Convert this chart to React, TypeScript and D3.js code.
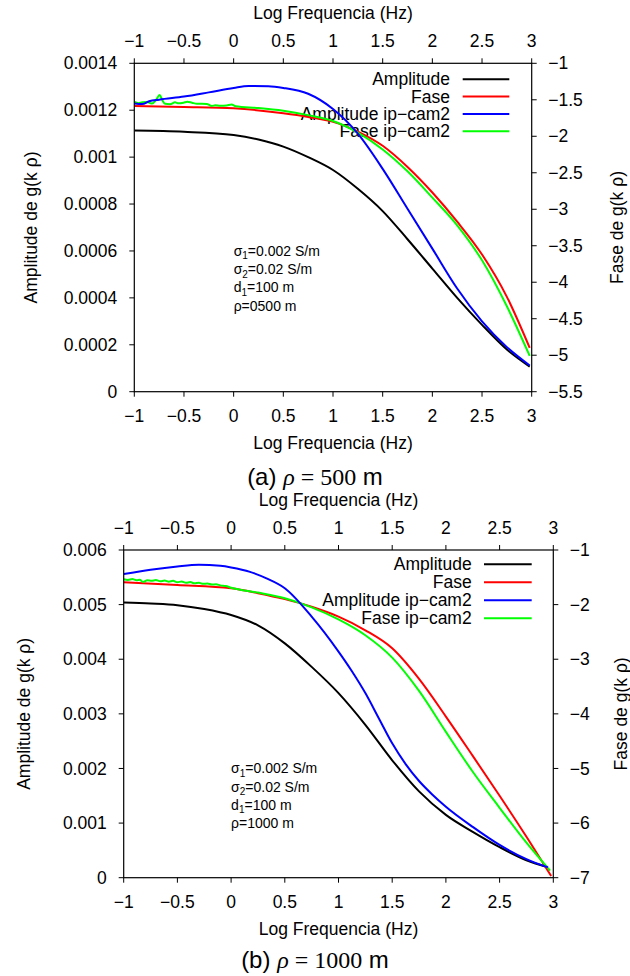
import React from "react";
import * as d3 from "d3";

type Pt = [number, number];

// ---------- shared axis values ----------
const xTicks = [-1, -0.5, 0, 0.5, 1, 1.5, 2, 2.5, 3];
const legendLabels = ["Amplitude", "Fase", "Amplitude ip\u2212cam2", "Fase ip\u2212cam2"];
const seriesColors = ["#000000", "#ff0000", "#0000ff", "#00ff00"];
const xTitle = "Log Frequencia (Hz)";
const ampTitle = "Amplitude de g(k \u03c1)";
const phaseTitle = "Fase de g(k \u03c1)";

// ---------- panel (a) rho = 500 m ----------
const ampTicksA = [0, 0.0002, 0.0004, 0.0006, 0.0008, 0.001, 0.0012, 0.0014];
const phaseTicksA = [-5.5, -5, -4.5, -4, -3.5, -3, -2.5, -2, -1.5, -1];

const amplitudeA: Pt[] = [
  [-1, 0.001113], [-0.5, 0.001108], [0, 0.001094], [0.25, 0.001075], [0.5, 0.001045],
  [0.75, 0.001], [1, 0.000945], [1.25, 0.000865], [1.5, 0.00077], [1.75, 0.00065],
  [2, 0.000525], [2.25, 0.0004], [2.5, 0.000285], [2.75, 0.00018], [2.98, 0.000107],
];
const faseA: Pt[] = [
  [-1, -1.585], [-0.5, -1.598], [0, -1.617], [0.5, -1.685], [0.75, -1.735], [1, -1.8],
  [1.25, -1.935], [1.5, -2.13], [1.75, -2.42], [2, -2.77], [2.25, -3.17], [2.5, -3.62],
  [2.75, -4.2], [2.98, -4.9],
];
const amplitudeIpA: Pt[] = [
  [-1, 0.001229], [-0.92, 0.001226], [-0.85, 0.001238], [-0.75, 0.001245], [-0.5, 0.001258],
  [-0.25, 0.001276], [0, 0.001295], [0.15, 0.001303], [0.35, 0.001302], [0.5, 0.001295],
  [0.75, 0.00127], [1, 0.001205], [1.25, 0.0011], [1.5, 0.00095], [1.75, 0.00078],
  [2, 0.00061], [2.25, 0.00044], [2.5, 0.0003], [2.75, 0.00019], [2.98, 0.000112],
];
const faseIpA: Pt[] = [
  [-1, -1.526], [-0.96, -1.548], [-0.92, -1.535], [-0.87, -1.53], [-0.82, -1.552],
  [-0.78, -1.5], [-0.745, -1.434], [-0.72, -1.5], [-0.69, -1.555], [-0.64, -1.56],
  [-0.59, -1.535], [-0.555, -1.548], [-0.505, -1.54], [-0.465, -1.527], [-0.42, -1.54],
  [-0.37, -1.555], [-0.32, -1.553], [-0.27, -1.557], [-0.22, -1.585], [-0.185, -1.575],
  [-0.135, -1.583], [-0.07, -1.578], [-0.02, -1.565], [0.02, -1.588], [0.25, -1.612],
  [0.5, -1.65], [0.75, -1.71], [1, -1.79], [1.25, -1.95], [1.5, -2.18], [1.75, -2.48],
  [2, -2.84], [2.25, -3.22], [2.5, -3.7], [2.75, -4.33], [2.98, -5.01],
];
const noteLinesA = ["\u03c3|1|=0.002 S/m", "\u03c3|2|=0.02 S/m", "d|1|=100 m", "\u03c1||=0500 m"];
const captionA = { tag: "(a) ", value: "500" };

// ---------- panel (b) rho = 1000 m ----------
const ampTicksB = [0, 0.001, 0.002, 0.003, 0.004, 0.005, 0.006];
const phaseTicksB = [-7, -6, -5, -4, -3, -2, -1];

const amplitudeB: Pt[] = [
  [-1, 0.00504], [-0.75, 0.00502], [-0.5, 0.00499], [-0.25, 0.00492], [0, 0.00481],
  [0.25, 0.00462], [0.5, 0.00429], [0.75, 0.00386], [1, 0.00338], [1.25, 0.0028],
  [1.5, 0.00215], [1.75, 0.00158], [2, 0.00115], [2.25, 0.00084], [2.5, 0.00056],
  [2.75, 0.00032], [2.95, 0.00019],
];
const faseB: Pt[] = [
  [-1, -1.592], [-0.5, -1.64], [0, -1.7], [0.25, -1.79], [0.5, -1.9], [0.75, -2.04],
  [1, -2.22], [1.25, -2.47], [1.5, -2.8], [1.75, -3.36], [2, -4.05], [2.25, -4.77],
  [2.5, -5.5], [2.75, -6.25], [2.98, -6.97],
];
const amplitudeIpB: Pt[] = [
  [-1, 0.00556], [-0.75, 0.00564], [-0.5, 0.0057], [-0.3, 0.00573], [-0.1, 0.00571],
  [0, 0.00568], [0.176, 0.0056], [0.33, 0.00548], [0.5, 0.0053], [0.75, 0.00478],
  [1, 0.00414], [1.125, 0.00378], [1.25, 0.00338], [1.375, 0.00292], [1.5, 0.00246],
  [1.625, 0.00208], [1.75, 0.00177], [1.875, 0.00152], [2, 0.0013], [2.25, 0.00093],
  [2.5, 0.0006], [2.75, 0.00034], [2.95, 0.00019],
];
const faseIpB: Pt[] = [
  [-1, -1.537], [-0.96, -1.548], [-0.92, -1.532], [-0.88, -1.552], [-0.85, -1.545],
  [-0.82, -1.585], [-0.78, -1.555], [-0.74, -1.565], [-0.7, -1.55], [-0.66, -1.572],
  [-0.62, -1.56], [-0.58, -1.58], [-0.54, -1.565], [-0.5, -1.59], [-0.46, -1.578],
  [-0.42, -1.6], [-0.38, -1.588], [-0.34, -1.61], [-0.3, -1.6], [-0.26, -1.62],
  [-0.22, -1.612], [-0.18, -1.632], [-0.14, -1.628], [-0.1, -1.648], [-0.05, -1.66],
  [0, -1.69], [0.25, -1.78], [0.5, -1.885], [0.75, -2.05], [1, -2.27], [1.25, -2.56],
  [1.5, -2.97], [1.75, -3.58], [2, -4.33], [2.25, -5.06], [2.5, -5.72], [2.75, -6.36],
  [2.97, -6.87],
];
const noteLinesB = ["\u03c3|1|=0.002 S/m", "\u03c3|2|=0.02 S/m", "d|1|=100 m", "\u03c1||=1000 m"];
const captionB = { tag: "(b) ", value: "1000" };

// ---------- helpers ----------
const SANS = "'Liberation Sans', Arial, Helvetica, sans-serif";
const SERIF = "'Liberation Serif', 'Times New Roman', serif";
const FS = 17.5;
const minus = (s: string) => s.replace("-", "\u2212");
const fmtAmp = (v: number) => (v === 0 ? "0" : String(+v.toFixed(4)));
const fmtNum = (v: number) => minus(String(v));

interface PanelProps {
  left: number; right: number; top: number; bottom: number;
  ampDomain: [number, number]; ampTicks: number[];
  phaseDomain: [number, number]; phaseTicks: number[];
  amp: Pt[]; fase: Pt[]; ampIp: Pt[]; faseIp: Pt[];
  legendTextX: number; legendLineX0: number; legendLineX1: number;
  legendY0: number; legendStep: number;
  note: string[]; noteAmp: number;
  leftTitleX: number; rightTitleX: number;
  caption: { tag: string; value: string }; captionY: number;
  id: string;
}

function Panel(p: PanelProps) {
  const x = d3.scaleLinear().domain([-1, 3]).range([p.left, p.right]);
  const y1 = d3.scaleLinear().domain(p.ampDomain).range([p.bottom, p.top]);
  const y2 = d3.scaleLinear().domain(p.phaseDomain).range([p.bottom, p.top]);
  const lineAmp = d3.line<Pt>().x((d) => x(d[0])).y((d) => y1(d[1])).curve(d3.curveMonotoneX);
  const linePh = d3.line<Pt>().x((d) => x(d[0])).y((d) => y2(d[1])).curve(d3.curveMonotoneX);
  const T = 5;
  const midX = (p.left + p.right) / 2;
  const midY = (p.top + p.bottom) / 2;
  const series = [
    { d: lineAmp(p.amp), c: seriesColors[0] },
    { d: linePh(p.fase), c: seriesColors[1] },
    { d: lineAmp(p.ampIp), c: seriesColors[2] },
    { d: linePh(p.faseIp), c: seriesColors[3] },
  ];
  const drawOrder = [0, 1, 3, 2];
  return (
    <g>
      <defs>
        <clipPath id={"clip" + p.id}>
          <rect x={p.left} y={p.top} width={p.right - p.left} height={p.bottom - p.top} />
        </clipPath>
      </defs>
      <text x={midX} y={p.top - 50} dy="0.35em" textAnchor="middle" fontFamily={SANS} fontSize={FS}>{xTitle}</text>
      <text x={midX} y={p.bottom + 51} dy="0.35em" textAnchor="middle" fontFamily={SANS} fontSize={FS}>{xTitle}</text>
      <text transform={`translate(${p.leftTitleX},${midY}) rotate(-90)`} dy="0.35em" textAnchor="middle" fontFamily={SANS} fontSize={FS}>{ampTitle}</text>
      <text transform={`translate(${p.rightTitleX},${midY}) rotate(-90)`} dy="0.35em" textAnchor="middle" fontFamily={SANS} fontSize={FS}>{phaseTitle}</text>
      {xTicks.map((t) => (
        <g key={"x" + t}>
          <line x1={x(t)} x2={x(t)} y1={p.top} y2={p.top - T} stroke="#000" strokeWidth={1} />
          <line x1={x(t)} x2={x(t)} y1={p.bottom} y2={p.bottom + T} stroke="#000" strokeWidth={1} />
          <text x={x(t)} y={p.top - 22} dy="0.35em" textAnchor="middle" fontFamily={SANS} fontSize={FS}>{fmtNum(t)}</text>
          <text x={x(t)} y={p.bottom + 24.5} dy="0.35em" textAnchor="middle" fontFamily={SANS} fontSize={FS}>{fmtNum(t)}</text>
        </g>
      ))}
      {p.ampTicks.map((t) => (
        <g key={"a" + t}>
          <line x1={p.left} x2={p.left - T} y1={y1(t)} y2={y1(t)} stroke="#000" strokeWidth={1} />
          <text x={p.left - 17} y={y1(t)} dy="0.35em" textAnchor="end" fontFamily={SANS} fontSize={FS}>{fmtAmp(t)}</text>
        </g>
      ))}
      {p.phaseTicks.map((t) => (
        <g key={"p" + t}>
          <line x1={p.right} x2={p.right + T} y1={y2(t)} y2={y2(t)} stroke="#000" strokeWidth={1} />
          <text x={p.right + 16.5} y={y2(t)} dy="0.35em" textAnchor="start" fontFamily={SANS} fontSize={FS}>{fmtNum(t)}</text>
        </g>
      ))}
      {legendLabels.map((l, i) => (
        <text key={"lt" + i} x={p.legendTextX} y={p.legendY0 + i * p.legendStep} dy="0.35em" textAnchor="end" fontFamily={SANS} fontSize={FS}>{l}</text>
      ))}
      <text fontFamily={SANS} fontSize={14}>
        {p.note.map((ln, i) => {
          const [sym, sub, rest] = ln.split("|");
          const yy = y1(p.noteAmp) + i * 18.2 + 5;
          return (
            <tspan key={"n" + i} x={x(0)} y={yy}>
              {sym}
              {sub ? <tspan fontSize={10} dy={3.5}>{sub}</tspan> : null}
              {sub ? <tspan dy={-3.5}>{rest}</tspan> : <tspan>{rest}</tspan>}
            </tspan>
          );
        })}
      </text>
      <g clipPath={`url(#clip${p.id})`}>
        {drawOrder.map((i) => (
          <path key={"s" + i} d={series[i].d || ""} fill="none" stroke={series[i].c} strokeWidth={2} strokeLinejoin="round" />
        ))}
      </g>
      {legendLabels.map((l, i) => (
        <line key={"ll" + i} x1={p.legendLineX0} x2={p.legendLineX1} y1={p.legendY0 + i * p.legendStep} y2={p.legendY0 + i * p.legendStep} stroke={seriesColors[i]} strokeWidth={2} />
      ))}
      <rect x={p.left} y={p.top} width={p.right - p.left} height={p.bottom - p.top} fill="none" stroke="#000" strokeWidth={1.2} />
      <text x={315} y={p.captionY} dy="0.35em" textAnchor="middle" fontSize={24}>
        <tspan fontFamily={SANS}>{p.caption.tag}</tspan>
        <tspan fontFamily={SERIF} fontStyle="italic">{"\u03c1"}</tspan>
        <tspan fontFamily={SERIF}>{" = " + p.caption.value}</tspan>
        <tspan fontFamily={SANS}>{" m"}</tspan>
      </text>
    </g>
  );
}

export default function App() {
  return (
    <svg width={630} height={976} viewBox="0 0 630 976" style={{ position: "absolute", left: 0, top: 0, background: "#fff" }}>
      <rect x={0} y={0} width={630} height={976} fill="#fff" />
      <Panel
        id="a"
        left={134.3} right={531.7} top={63.3} bottom={391.7}
        ampDomain={[0, 0.0014]} ampTicks={ampTicksA}
        phaseDomain={[-5.5, -1]} phaseTicks={phaseTicksA}
        amp={amplitudeA} fase={faseA} ampIp={amplitudeIpA} faseIp={faseIpA}
        legendTextX={450} legendLineX0={462.7} legendLineX1={509.3}
        legendY0={79.3} legendStep={17.3}
        note={noteLinesA} noteAmp={0.0006}
        leftTitleX={31} rightTitleX={617}
        caption={captionA} captionY={477}
      />
      <Panel
        id="b"
        left={123.7} right={553.3} top={550} bottom={877.7}
        ampDomain={[0, 0.006]} ampTicks={ampTicksB}
        phaseDomain={[-7, -1]} phaseTicks={phaseTicksB}
        amp={amplitudeB} fase={faseB} ampIp={amplitudeIpB} faseIp={faseIpB}
        legendTextX={471.7} legendLineX0={484} legendLineX1={531.7}
        legendY0={564.3} legendStep={18}
        note={noteLinesB} noteAmp={0.002}
        leftTitleX={24} rightTitleX={621}
        caption={captionB} captionY={960}
      />
    </svg>
  );
}
